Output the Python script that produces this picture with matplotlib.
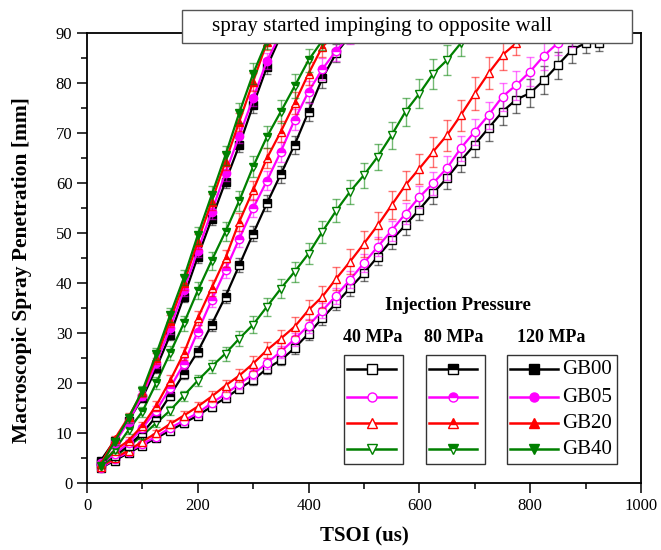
import matplotlib
matplotlib.use('Agg')
import matplotlib.pyplot as plt
from matplotlib.patches import Rectangle
from matplotlib.colors import to_rgba

plt.rcParams['font.family'] = ['Liberation Serif', 'DejaVu Serif']

# ---------------- data ----------------
TSOI_US = list(range(25, 950, 25))
FUELS = ['GB00', 'GB05', 'GB20', 'GB40']
PRESSURES = ['40 MPa', '80 MPa', '120 MPa']

# 40 MPa
GB00_40 = [3, 4.5, 6, 7.5, 9, 10.5, 12, 13.5, 15.3, 17, 18.9, 20.6, 22.9, 24.6, 27, 29.9, 33, 36, 39, 42,
           45.3, 48.6, 51.6, 54.7, 58, 61, 64.5, 67.7, 71, 74.3, 76.7, 78, 80.6, 83.6, 86.6, 88, 88]
GB05_40 = [3, 4.8, 6.2, 7.8, 9.3, 11, 12.5, 14, 16, 17.8, 19.8, 21.8, 24, 26.3, 28.8, 31.5, 34.5, 37.5, 40.7, 44,
           47.3, 50.5, 53.9, 57.2, 60, 63, 67, 70.3, 73.6, 77.3, 79.6, 82.3, 85.5, 88, 89]
GB20_40 = [3.2, 5, 6.5, 8.3, 10, 11.8, 13.5, 15.3, 17.3, 19.5, 21.5, 23.9, 26.6, 28.9, 31.3, 34.6, 37.3, 40.9, 44.3, 47.9,
           51.6, 55.6, 59.6, 62.9, 66.3, 69.6, 73.6, 77.9, 82, 85.6, 88]
GB40_40 = [3.5, 5.3, 7.3, 9.5, 12, 14.5, 17.5, 20.5, 23.3, 25.9, 28.9, 31.7, 35.3, 38.9, 42.3, 45.9, 50.3, 54.5, 58.3, 61.6,
           65.3, 69.6, 74.3, 77.9, 81.9, 84.6, 88]
# 80 MPa
GB00_80 = [4, 5.5, 7.5, 10, 13.3, 17.5, 21.9, 26.3, 31.7, 37.3, 43.6, 49.9, 56, 61.8, 67.7, 74.3, 81, 86, 89.5]
GB05_80 = [3.8, 5.8, 8, 11, 14.5, 19, 23.9, 30.3, 36.6, 42.6, 48.9, 55, 60.5, 66.3, 72.7, 78.3, 82.8, 86.5, 89.5]
GB20_80 = [4, 6.5, 8.5, 11.5, 15.5, 20.5, 26, 33, 39, 45, 52.3, 58.6, 65, 70.3, 76, 81.9, 87.3, 89.8]
GB40_80 = [3.5, 6.6, 10.6, 14.3, 20, 26, 32, 38.5, 44.5, 50.3, 56.5, 63.3, 69.3, 74.3, 79.4, 84.6, 88.5]
# 120 MPa
GB00_120 = [4.5, 8.5, 12.5, 17, 23, 29.6, 37.3, 45.3, 52.8, 60.3, 67.6, 75.6, 83.3, 89.5]
GB05_120 = [4.0, 8.0, 12.3, 17.5, 24, 31, 38.7, 46.5, 54.3, 62, 69.5, 77, 84.5, 90]
GB20_120 = [3.8, 8.8, 13.2, 18.2, 25, 32.5, 40, 48.3, 56.3, 64.3, 72.3, 80.3, 88.2]
GB40_120 = [3.5, 8.3, 13, 18.5, 25.8, 33.6, 41.1, 49.6, 57.6, 65.6, 74.1, 81.9, 88.5]

# error bars (mm)
ERR_GB00_40 = [0.4, 0.4, 0.5, 0.5, 0.6, 0.6, 0.7, 0.7, 0.8, 0.8, 0.9, 0.9, 1.0, 1.0, 1.1, 1.2, 1.3, 1.4, 1.5, 1.6,
               1.7, 1.8, 1.9, 2.0, 2.1, 2.2, 2.3, 2.4, 2.5, 2.6, 2.7, 2.8, 2.8, 2.7, 2.6, 2.0, 1.5]
ERR_GB05_40 = [0.4, 0.4, 0.5, 0.5, 0.6, 0.6, 0.7, 0.8, 0.8, 0.9, 1.0, 1.0, 1.1, 1.2, 1.3, 1.4, 1.5, 1.6, 1.7, 1.8,
               1.9, 2.0, 2.1, 2.2, 2.3, 2.4, 2.5, 2.6, 2.7, 2.8, 2.9, 2.9, 2.8, 2.4, 1.8]
ERR_GB20_40 = [0.4, 0.5, 0.5, 0.6, 0.7, 0.8, 0.9, 1.0, 1.1, 1.2, 1.3, 1.5, 1.6, 1.8, 1.9, 2.0, 2.2, 2.3, 2.5, 2.6,
               2.7, 2.8, 2.9, 3.0, 3.0, 3.1, 3.1, 3.2, 3.2, 3.0, 2.4]
ERR_GB40_40 = [0.4, 0.5, 0.6, 0.7, 0.8, 0.9, 1.0, 1.1, 1.3, 1.4, 1.5, 1.7, 1.8, 1.9, 2.0, 2.1, 2.2, 2.3, 2.4, 2.5,
               2.6, 2.7, 2.8, 2.9, 3.0, 3.0, 2.5]
ERR_GB00_80 = [0.4, 0.5, 0.6, 0.7, 0.8, 0.9, 1.0, 1.1, 1.2, 1.3, 1.4, 1.5, 1.6, 1.7, 1.8, 1.9, 2.0, 1.8, 1.5]
ERR_GB05_80 = [0.4, 0.5, 0.6, 0.7, 0.9, 1.0, 1.1, 1.3, 1.4, 1.5, 1.6, 1.8, 1.9, 2.0, 2.1, 2.2, 2.2, 2.0, 1.6]
ERR_GB20_80 = [0.5, 0.6, 0.7, 0.8, 1.0, 1.1, 1.3, 1.4, 1.6, 1.7, 1.8, 1.9, 2.0, 2.1, 2.2, 2.3, 2.0, 1.6]
ERR_GB40_80 = [0.5, 0.6, 0.8, 1.0, 1.2, 1.4, 1.5, 1.7, 1.8, 1.9, 2.0, 2.1, 2.2, 2.3, 2.4, 2.3, 1.8]
ERR_GB00_120 = [0.5, 0.6, 0.7, 0.8, 0.9, 1.0, 1.1, 1.2, 1.2, 1.3, 1.4, 1.5, 1.5, 1.2]
ERR_GB05_120 = [0.5, 0.6, 0.7, 0.9, 1.0, 1.1, 1.2, 1.3, 1.4, 1.5, 1.5, 1.6, 1.6, 1.2]
ERR_GB20_120 = [0.5, 0.7, 0.8, 0.9, 1.1, 1.2, 1.4, 1.5, 1.6, 1.7, 1.8, 1.8, 1.5]
ERR_GB40_120 = [0.5, 0.7, 0.9, 1.0, 1.2, 1.4, 1.5, 1.7, 1.8, 1.9, 2.0, 2.1, 1.6]

SERIES = {
    ('40 MPa', 'GB00'): (GB00_40, ERR_GB00_40), ('40 MPa', 'GB05'): (GB05_40, ERR_GB05_40),
    ('40 MPa', 'GB20'): (GB20_40, ERR_GB20_40), ('40 MPa', 'GB40'): (GB40_40, ERR_GB40_40),
    ('80 MPa', 'GB00'): (GB00_80, ERR_GB00_80), ('80 MPa', 'GB05'): (GB05_80, ERR_GB05_80),
    ('80 MPa', 'GB20'): (GB20_80, ERR_GB20_80), ('80 MPa', 'GB40'): (GB40_80, ERR_GB40_80),
    ('120 MPa', 'GB00'): (GB00_120, ERR_GB00_120), ('120 MPa', 'GB05'): (GB05_120, ERR_GB05_120),
    ('120 MPa', 'GB20'): (GB20_120, ERR_GB20_120), ('120 MPa', 'GB40'): (GB40_120, ERR_GB40_120),
}

# ---------------- style ----------------
COLORS = {'GB00': '#000000', 'GB05': '#ff00ff', 'GB20': '#ff0000', 'GB40': '#008000'}
MARKERS = {'GB00': 's', 'GB05': 'o', 'GB20': '^', 'GB40': 'v'}


def marker_style(p, c):
    if p == '40 MPa':
        return dict(markerfacecolor='white', markeredgecolor=c)
    if p == '80 MPa':
        return dict(markerfacecolor=c, markerfacecoloralt='white', fillstyle='top', markeredgecolor=c)
    return dict(markerfacecolor=c, markeredgecolor=c)


fig = plt.figure(figsize=(6.61, 5.5), dpi=100)
ax = fig.add_axes([87 / 661, 67 / 550, 554 / 661, 450 / 550])

z = 2
for p in PRESSURES:
    for f in FUELS:
        y, e = SERIES[(p, f)]
        t = TSOI_US[:len(y)]
        c = COLORS[f]
        ax.errorbar(t, y, yerr=e, color=c, marker=MARKERS[f], markersize=6, linewidth=1.6,
                    markeredgewidth=1.0, ecolor=to_rgba(c, 0.55), elinewidth=1.0, capsize=3.2,
                    capthick=1.0, zorder=z, **marker_style(p, c))
        z += 0.1

ax.set_xlim(0, 1000)
ax.set_ylim(0, 90)
ax.set_xticks(range(0, 1001, 200))
ax.set_xticks(range(100, 1000, 200), minor=True)
ax.set_yticks(range(0, 91, 10))
ax.set_yticks(range(5, 90, 10), minor=True)
ax.tick_params(which='major', direction='out', length=7, width=1.1, labelsize=12, top=False, right=False)
ax.tick_params(which='minor', direction='out', length=4, width=1.1, top=False, right=False)
for s in ax.spines.values():
    s.set_linewidth(1.3)
ax.set_xlabel('TSOI (us)', fontsize=15, fontweight='bold', labelpad=9)
ax.set_ylabel('Macroscopic Spray Penetration [mm]', fontsize=15.5, fontweight='bold')
ax.yaxis.set_label_coords(-0.100, 0.473)


# ---------------- legend (drawn in axes fraction) ----------------
def A(px, py):
    return ((px - 87) / 554, (483 - py) / 450)


ax.text(*A(458, 305), 'Injection Pressure', transform=ax.transAxes, ha='center', va='center',
        fontsize=13.5, fontweight='bold', zorder=10)

boxes = {'40 MPa': (344, 403, 347, 396, 373), '80 MPa': (426, 485, 429, 477, 454),
         '120 MPa': (507, 617, 510, 558, 551)}
rows = [369, 397, 423, 449]
for p in PRESSURES:
    bx0, bx1, lx0, lx1, tx = boxes[p]
    ax.text(*A(tx, 337), p, transform=ax.transAxes, ha='center', va='center',
            fontsize=13, fontweight='bold', zorder=10)
    x0, y1 = A(bx0, 355)
    x1, y0 = A(bx1, 464)
    ax.add_patch(Rectangle((x0, y0), x1 - x0, y1 - y0, transform=ax.transAxes, facecolor='white',
                           edgecolor='#333333', linewidth=1.0, zorder=9))
    for f, ry in zip(FUELS, rows):
        c = COLORS[f]
        (ax0, ay), (ax1, _) = A(lx0, ry), A(lx1, ry)
        ax.plot([ax0, ax1], [ay, ay], transform=ax.transAxes, color=c, linewidth=1.8, zorder=10,
                clip_on=False)
        ax.plot([(ax0 + ax1) / 2], [ay], transform=ax.transAxes, linestyle='none', marker=MARKERS[f],
                markersize=6.5, markeredgewidth=1.0, zorder=11, clip_on=False, **marker_style(p, c))
        if p == '120 MPa':
            ax.text(*A(562, ry), f, transform=ax.transAxes, ha='left', va='center', fontsize=15, zorder=11)

# ---------------- annotation box on top ----------------
fig.add_artist(Rectangle((182 / 661, (550 - 43) / 550), 450 / 661, 33 / 550, transform=fig.transFigure,
                         facecolor='white', edgecolor='#555555', linewidth=1.0, zorder=5))
fig.text(212 / 661, (550 - 27) / 550, 'spray started impinging to opposite wall', ha='left', va='center',
         fontsize=15.2, zorder=6)

fig.savefig('out.png', dpi=100)
